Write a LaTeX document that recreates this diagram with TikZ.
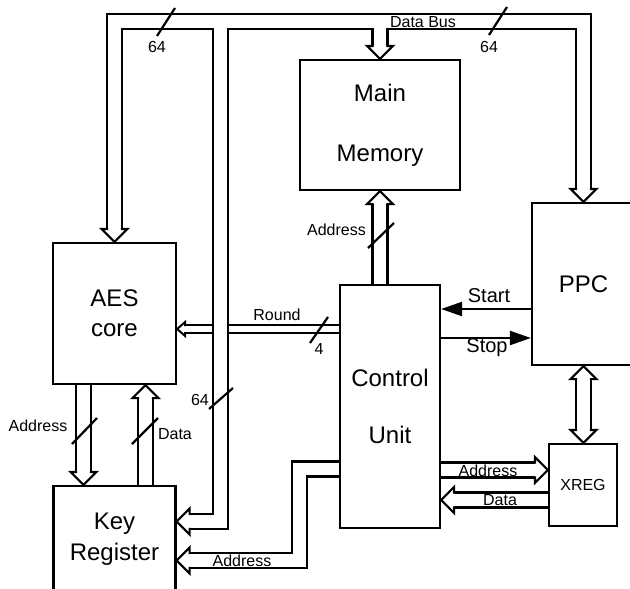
\documentclass[tikz,border=0pt]{standalone}
\usepackage{fontspec}
\setmainfont{Liberation Sans}
\usetikzlibrary{arrows.meta, calc}
\newcommand{\boxfont}{\fontsize{24pt}{29pt}\selectfont}
\newcommand{\lblfont}{\fontsize{16pt}{19pt}\selectfont}
\newcommand{\sigfont}{\fontsize{20pt}{24pt}\selectfont}

\begin{document}
\begin{tikzpicture}[x=1pt, y=-1pt,
  block/.style={
    rectangle, draw, line width=2.2pt,
    inner sep=0pt, align=center, font=\boxfont
  },
  bus/.style={double, double distance=12.8pt, line width=2.2pt},
  busout/.style={line width=17.2pt},
  busin/.style={white, line width=12.8pt},
  thinbus/.style={double, double distance=6pt, line width=2pt},
  sig/.style={line width=2.2pt, -{Triangle[length=21pt, width=14pt]}},
  slash/.style={line width=2.2pt},
  lbl/.style={font=\lblfont, inner sep=0pt},
  bushead/.pic={\draw[line width=2.2pt, fill=white] (-13,6.4) -- (-13,13) -- (0,0) -- (-13,-13) -- (-13,-6.4);},
  thinhead/.pic={\draw[line width=2pt, fill=white] (-8,3) -- (-8,7) -- (0,0) -- (-8,-7) -- (-8,-3);},
]
\useasboundingbox (0,0) rectangle (630,589);

%% Blocks
\node[block, minimum width=160pt, minimum height=130pt] (mm)   at (380,125)   {Main\\[31pt]Memory};
\node[block, minimum width=123pt, minimum height=141pt] (aes)  at (114.5,313.5) {AES\\[1pt]core};
\node[block, minimum width=122pt, minimum height=106pt] (kr)   at (114.5,539) {Key\\[2pt]Register};
\node[block, minimum width=100pt, minimum height=243pt] (cu)   at (390,406.5) {Control\\[28pt]Unit};
\node[block, minimum width=103pt, minimum height=162pt] (ppc)  at (583.5,284) {PPC};
\node[block, minimum width=68pt,  minimum height=82pt, font=\lblfont] (xreg) at (583,485) {XREG};

%% Tap points
\coordinate (tb)    at (220.5,21.5);
\coordinate (krin)  at ($(kr.east)+(0,-17.5)$);
\coordinate (rnd)   at ($(cu.west)+(0,-77.5)$);
\coordinate (cuk)   at ($(cu.west)+(0,62.5)$);
\coordinate (krk)   at ($(kr.east)+(0,21.5)$);
\coordinate (xadr)  at ($(cu.east)+(0,63.5)$);
\coordinate (xdat)  at ($(xreg.west)+(0,15)$);
\coordinate (start) at ($(ppc.west)+(0,25)$);
\coordinate (stop)  at ($(cu.east)+(0,-68.5)$);

%% Round (under the 64 bus)
\draw[thinbus, shorten >=8pt] (rnd) -- (rnd -| aes.east);
\pic[rotate=180] at (rnd -| aes.east) {thinhead};

%% Data bus
\foreach \pass in {busout, busin} {
  \draw[\pass, shorten <=13pt, shorten >=13pt] (aes.north) |- (tb) -| (ppc.north);
  \draw[\pass, shorten >=13pt] (mm.north |- tb) -- (mm.north);
  \draw[\pass, shorten >=13pt] (tb) -- (tb |- krin) -- (krin);
}
\pic[rotate=-90] at (aes.north) {bushead};
\pic[rotate=-90] at (mm.north) {bushead};
\pic[rotate=-90] at (ppc.north) {bushead};
\pic[rotate=180] at (krin) {bushead};

%% Other buses
\draw[bus, shorten >=13pt] (mm.south |- cu.north) -- (mm.south);
\pic[rotate=90] at (mm.south) {bushead};

\draw[bus, shorten >=13pt] ($(aes.south)+(-31,0)$) -- ($(kr.north)+(-31,0)$);
\pic[rotate=-90] at ($(kr.north)+(-31,0)$) {bushead};
\draw[bus, shorten >=13pt] ($(kr.north)+(31,0)$) -- ($(aes.south)+(31,0)$);
\pic[rotate=90] at ($(aes.south)+(31,0)$) {bushead};

\draw[bus, shorten >=13pt] (cuk) -- ++(-39.5,0) |- (krk);
\pic[rotate=180] at (krk) {bushead};

\draw[bus, shorten >=13pt] (xadr) -- (xadr -| xreg.west);
\pic at (xadr -| xreg.west) {bushead};
\draw[bus, shorten >=13pt] (xdat) -- (xdat -| cu.east);
\pic[rotate=180] at (xdat -| cu.east) {bushead};

\draw[bus, shorten <=13pt, shorten >=13pt] (ppc.south) -- (ppc.south |- xreg.north);
\pic[rotate=90] at (ppc.south) {bushead};
\pic[rotate=-90] at (ppc.south |- xreg.north) {bushead};

%% Start / Stop
\draw[sig] (start) -- (start -| cu.east);
\draw[sig] (stop) -- (stop -| ppc.west);

%% Width marks
\draw[slash] (166,22) ++(9,-14) -- ++(-18,28);
\draw[slash] (498,21) ++(9,-14) -- ++(-18,28);
\draw[slash] (221,398.5) ++(12,-10.5) -- ++(-24,21);
\draw[slash] (319,330) ++(9,-13) -- ++(-18,26);
\draw[slash] (381,235.5) ++(13,-12.5) -- ++(-26,25);
\draw[slash] (84.5,431) ++(12.5,-13) -- ++(-25,26);
\draw[slash] (145,431) ++(13,-13) -- ++(-26,26);

%% Labels
\node[lbl] (lbus)  at (423,22)    {Data Bus};
\node[lbl] (w64a)  at (157,47)    {64};
\node[lbl] (w64b)  at (489,46.5)  {64};
\node[lbl] (w64c)  at (200,400)   {64};
\node[lbl] (lrnd)  at (277,314.5) {Round};
\node[lbl] (w4)    at (319,349)   {4};
\node[lbl] (lmadr) at (336.5,230) {Address};
\node[lbl] (lkadr) at (38,425.5)  {Address};
\node[lbl] (lkdat) at (175,434)   {Data};
\node[lbl] (lcadr) at (242,561)   {Address};
\node[lbl] (lxadr) at (488,471)   {Address};
\node[lbl] (lxdat) at (500,500)   {Data};
\node[lbl, font=\sigfont] (lstrt) at (489,296) {Start};
\node[lbl, font=\sigfont] (lstop) at (487,348) {Stop};

\end{tikzpicture}
\end{document}
